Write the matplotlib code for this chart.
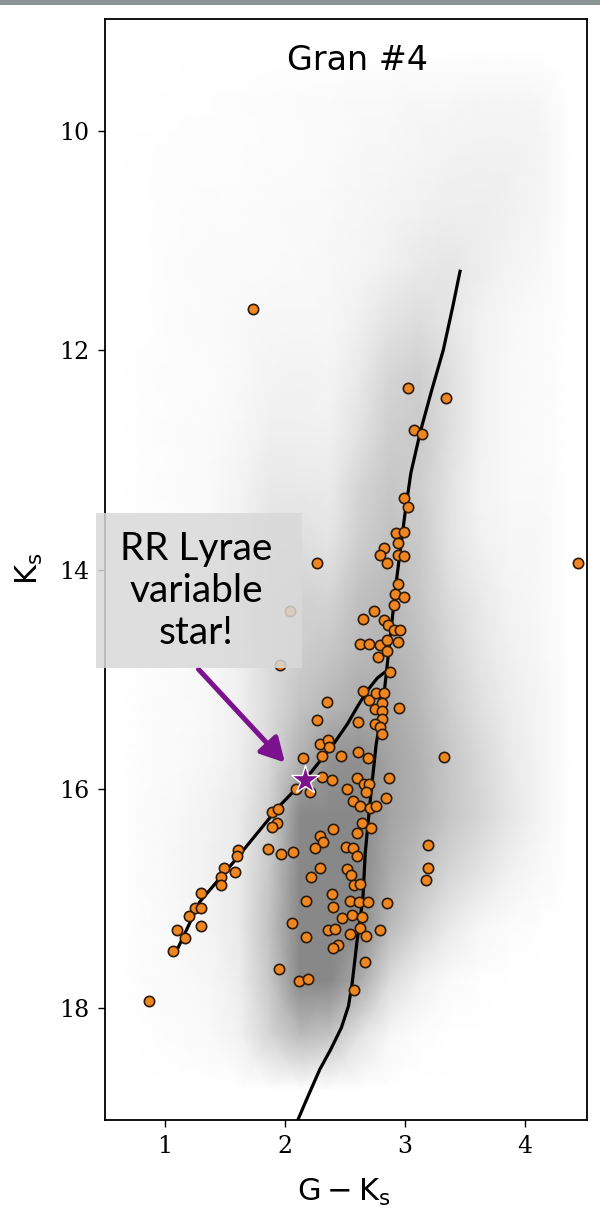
import numpy as np
import matplotlib
matplotlib.use("Agg")
import matplotlib.pyplot as plt
from matplotlib.colors import LinearSegmentedColormap
from matplotlib.patches import Rectangle

# --- data ---
# field-star density (relative, 0-10) on a grid of cell centres
cloud_gk = [0.625, 0.875, 1.125, 1.375, 1.625, 1.875, 2.125, 2.375,
            2.625, 2.875, 3.125, 3.375, 3.625, 3.875, 4.125, 4.375]
cloud_ks = [9.25, 9.75, 10.25, 10.75, 11.25, 11.75, 12.25, 12.75, 13.25, 13.75,
            14.25, 14.75, 15.25, 15.75, 16.25, 16.75, 17.25, 17.75, 18.25, 18.75]
cloud_density = [
    [0.0, 0.0, 0.0, 0.0, 0.0, 0.0, 0.0, 0.0, 0.0, 0.0, 0.0, 0.0, 0.0, 0.0, 0.0, 0.0],
    [0.0, 0.05, 0.1, 0.1, 0.15, 0.2, 0.25, 0.3, 0.4, 0.45, 0.6, 0.6, 0.7, 0.7, 0.6, 0.0],
    [0.0, 0.1, 0.15, 0.15, 0.15, 0.2, 0.25, 0.35, 0.5, 0.6, 0.7, 0.9, 1.0, 1.0, 0.8, 0.0],
    [0.0, 0.1, 0.15, 0.2, 0.25, 0.3, 0.4, 0.45, 0.6, 0.8, 1.0, 1.2, 1.2, 1.0, 0.7, 0.0],
    [0.0, 0.1, 0.2, 0.3, 0.35, 0.35, 0.4, 0.5, 0.7, 1.1, 1.6, 1.8, 1.3, 0.8, 0.5, 0.0],
    [0.0, 0.1, 0.2, 0.3, 0.4, 0.6, 0.6, 0.6, 1.1, 2.0, 2.4, 1.8, 0.9, 0.5, 0.3, 0.0],
    [0.0, 0.15, 0.2, 0.25, 0.4, 0.8, 0.9, 0.8, 1.6, 3.0, 3.4, 2.3, 1.0, 0.4, 0.3, 0.0],
    [0.0, 0.15, 0.2, 0.3, 0.6, 1.1, 1.1, 1.0, 2.1, 3.5, 3.8, 2.3, 1.0, 0.4, 0.3, 0.0],
    [0.0, 0.15, 0.2, 0.35, 0.8, 1.6, 1.6, 1.4, 3.0, 4.0, 3.5, 2.0, 0.8, 0.45, 0.4, 0.0],
    [0.0, 0.15, 0.2, 0.4, 1.0, 2.0, 2.3, 1.9, 3.5, 4.5, 3.8, 2.0, 1.0, 0.6, 0.5, 0.0],
    [0.0, 0.15, 0.25, 0.5, 1.1, 2.6, 3.2, 3.0, 4.5, 5.0, 4.0, 2.5, 1.5, 0.8, 0.5, 0.0],
    [0.0, 0.15, 0.3, 0.5, 1.1, 2.6, 3.6, 4.0, 5.0, 5.5, 4.5, 3.0, 1.8, 1.0, 0.6, 0.0],
    [0.0, 0.2, 0.3, 0.5, 1.1, 2.6, 4.2, 5.2, 6.0, 6.0, 5.0, 3.5, 2.2, 1.3, 0.7, 0.0],
    [0.0, 0.2, 0.35, 0.6, 1.2, 2.8, 5.6, 7.8, 8.0, 6.5, 5.5, 4.0, 2.8, 1.6, 0.8, 0.0],
    [0.0, 0.3, 0.5, 0.9, 1.5, 3.4, 8.5, 9.8, 9.0, 6.5, 5.5, 4.0, 3.0, 1.8, 0.8, 0.0],
    [0.0, 0.3, 0.6, 1.0, 1.6, 4.0, 9.5, 10.0, 9.5, 6.0, 4.5, 3.0, 2.0, 1.0, 0.4, 0.0],
    [0.0, 0.25, 0.5, 0.8, 1.6, 4.4, 9.8, 10.0, 9.0, 5.0, 3.0, 1.5, 0.6, 0.25, 0.1, 0.0],
    [0.0, 0.2, 0.35, 0.6, 1.3, 4.0, 8.8, 9.0, 6.0, 2.5, 1.0, 0.3, 0.1, 0.05, 0.0, 0.0],
    [0.0, 0.1, 0.2, 0.35, 0.9, 3.0, 4.8, 4.2, 2.0, 0.5, 0.15, 0.05, 0.0, 0.0, 0.0, 0.0],
    [0.0, 0.0, 0.0, 0.0, 0.0, 0.0, 0.0, 0.0, 0.0, 0.0, 0.0, 0.0, 0.0, 0.0, 0.0, 0.0],
]

# cluster members (G-K_s, K_s)
members_gk = [1.73, 3.03, 3.34, 3.08, 3.14, 2.99, 3.03, 2.93, 2.99, 2.94, 2.83, 2.79, 2.85, 2.94, 2.99,
              2.27, 4.44, 2.94, 2.92, 2.99, 2.91, 2.74, 2.65, 2.83, 2.86, 2.91, 2.96, 2.63, 2.70, 2.79,
              2.85, 2.94, 2.85, 2.78, 2.88, 2.04, 1.96, 2.65, 2.70, 2.76, 2.83, 2.75, 2.81, 2.81, 2.81,
              2.75, 2.79, 2.81, 2.95, 2.61, 2.35, 2.27, 2.29, 2.36, 2.37, 2.15, 2.31, 2.47, 2.61, 2.69,
              3.33, 2.31, 2.39, 2.60, 2.87, 2.09, 2.21, 2.52, 2.66, 2.70, 2.68, 2.84, 2.57, 2.63, 2.71,
              2.76, 1.89, 1.94, 1.93, 1.89, 2.64, 2.72, 2.40, 2.60, 2.29, 2.32, 2.25, 2.51, 2.57, 2.60,
              1.86, 1.97, 2.07, 1.61, 1.60, 1.49, 1.58, 1.47, 1.47, 2.29, 2.22, 2.52, 2.55, 2.58, 2.63,
              1.30, 1.25, 1.30, 1.20, 1.30, 1.10, 1.17, 1.07, 2.18, 2.39, 2.40, 2.54, 2.62, 2.69, 2.85,
              2.48, 2.56, 2.64, 2.06, 2.36, 2.42, 2.54, 2.63, 2.68, 2.79, 2.18, 2.44, 2.40, 2.67, 1.95,
              2.12, 2.19, 2.58, 0.87, 3.19, 3.19, 3.18]
members_ks = [11.62, 12.34, 12.44, 12.73, 12.76, 13.35, 13.43, 13.67, 13.66, 13.76, 13.80, 13.87, 13.94, 13.87, 13.88,
              13.94, 13.94, 14.13, 14.22, 14.25, 14.32, 14.38, 14.45, 14.46, 14.51, 14.55, 14.55, 14.68, 14.68, 14.69,
              14.64, 14.66, 14.74, 14.80, 14.93, 14.38, 14.87, 15.11, 15.19, 15.13, 15.13, 15.27, 15.22, 15.29, 15.36,
              15.41, 15.44, 15.50, 15.26, 15.39, 15.21, 15.37, 15.59, 15.55, 15.62, 15.72, 15.70, 15.70, 15.66, 15.72,
              15.71, 15.89, 15.92, 15.90, 15.90, 16.00, 16.03, 16.00, 15.96, 15.96, 16.03, 16.08, 16.11, 16.16, 16.17,
              16.16, 16.21, 16.18, 16.31, 16.35, 16.31, 16.36, 16.37, 16.40, 16.43, 16.48, 16.54, 16.53, 16.54, 16.61,
              16.55, 16.59, 16.58, 16.56, 16.61, 16.72, 16.76, 16.80, 16.88, 16.72, 16.80, 16.73, 16.79, 16.88, 16.87,
              16.95, 17.09, 17.09, 17.16, 17.25, 17.29, 17.36, 17.48, 17.02, 16.96, 17.08, 17.02, 17.03, 17.03, 17.04,
              17.18, 17.15, 17.17, 17.22, 17.29, 17.28, 17.32, 17.27, 17.34, 17.29, 17.35, 17.42, 17.45, 17.58, 17.64,
              17.75, 17.73, 17.83, 17.93, 16.51, 16.72, 16.83]

# isochrone: main sequence / red giant branch
iso_rgb_gk = [3.46, 3.40, 3.32, 3.22, 3.13, 3.05, 3.00, 2.93, 2.87, 2.82, 2.76, 2.71, 2.67, 2.65, 2.60, 2.56,
              2.53, 2.47, 2.38, 2.29, 2.17, 2.10]
iso_rgb_ks = [11.28, 11.60, 12.00, 12.38, 12.74, 13.12, 13.50, 14.10, 14.70, 15.20, 15.60, 16.12, 16.58, 17.00,
              17.40, 17.78, 17.98, 18.18, 18.38, 18.56, 18.86, 19.04]
# isochrone: horizontal branch
iso_hb_gk = [1.10, 1.29, 1.57, 1.96, 2.18, 2.40, 2.52, 2.61, 2.69, 2.77, 2.84]
iso_hb_ks = [17.47, 17.03, 16.67, 16.15, 15.90, 15.60, 15.41, 15.24, 15.10, 14.99, 14.93]

# RR Lyrae star
rrl_gk = [2.17]
rrl_ks = [15.92]

xticks = [1, 2, 3, 4]
yticks = [10, 12, 14, 16, 18]

# --- figure ---
fig = plt.figure(figsize=(6, 12.3), dpi=100)
ax = fig.add_axes([0.175, 0.0894, 0.803, 0.8951])

cloud_cmap = LinearSegmentedColormap.from_list("cloud", ["#ffffff", "#888888"])
ax.pcolormesh(cloud_gk, cloud_ks, np.array(cloud_density), shading="gouraud",
              cmap=cloud_cmap, vmin=0, vmax=8.5, zorder=0, rasterized=True)

ax.plot(iso_rgb_gk, iso_rgb_ks, color="black", lw=2.3, zorder=2)
ax.plot(iso_hb_gk, iso_hb_ks, color="black", lw=2.3, zorder=2)

ax.scatter(members_gk, members_ks, s=55, c="#f0861f", edgecolors="#2b1a0a", linewidths=1.2, zorder=3)

purple = "#7d128e"
ax.plot(rrl_gk, rrl_ks, marker="*", ms=21, mfc=purple, mec="white", mew=1.0, ls="none", zorder=5)
ax.annotate("", xy=(2.0, 15.76), xytext=(1.28, 14.91),
            arrowprops=dict(arrowstyle="-|>,head_length=0.55,head_width=0.3", color=purple,
                            lw=3.6, mutation_scale=26, shrinkA=0, shrinkB=0),
            annotation_clip=False, zorder=6)

ax.set_xlim(0.5, 4.517)
ax.set_ylim(19.02, 8.98)
ax.set_xticks(xticks)
ax.set_yticks(yticks)
ax.tick_params(direction="out", length=5, width=1.0, pad=6, labelsize=17)
for lab in ax.get_xticklabels() + ax.get_yticklabels():
    lab.set_family("DejaVu Serif")
for sp in ax.spines.values():
    sp.set_linewidth(1.3)

ax.text(0.524, 0.962, "Gran #4", transform=ax.transAxes, ha="center", va="center", fontsize=24)

fig.text(29 / 600, 1 - 569 / 1230, r"$\mathrm{K_s}$", rotation=90, ha="center", va="center", fontsize=22)
fig.text(344 / 600, 1 - 1192 / 1230, r"$\mathrm{G - K_s}$", ha="center", va="center", fontsize=22)

# annotation box
fig.add_artist(Rectangle((96 / 600, 1 - 668 / 1230), 206 / 600, 155 / 1230, transform=fig.transFigure,
                         facecolor="#d9d9d9", edgecolor="none", alpha=0.85, zorder=3))
fig.text(196 / 600, 1 - 591 / 1230, "RR Lyrae\nvariable\nstar!", ha="center", va="center",
         multialignment="center", fontsize=28, family="Lato", linespacing=1.22, zorder=4)

# thin grey strip along the top edge
fig.add_artist(Rectangle((0, 1 - 5 / 1230), 1, 5 / 1230, transform=fig.transFigure,
                         facecolor="#8c9595", edgecolor="none", zorder=3))

fig.savefig("out.png", dpi=100)
